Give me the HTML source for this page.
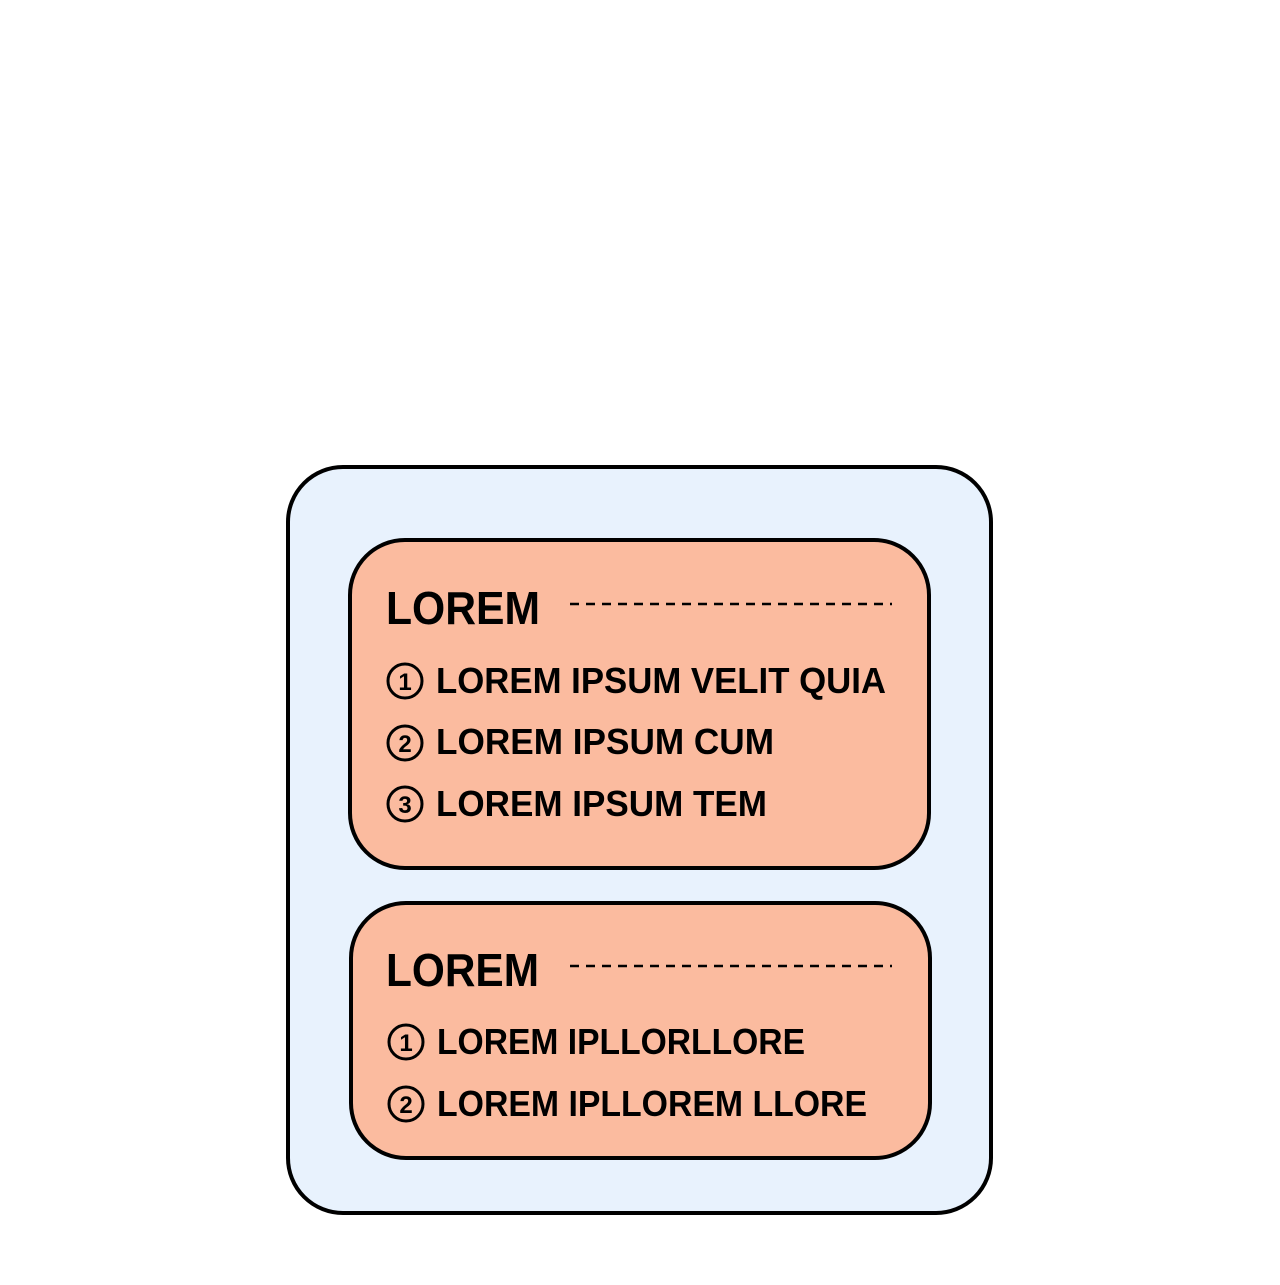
<!DOCTYPE html>
<html><head><meta charset="utf-8"><style>html,body{margin:0;padding:0;background:#fff}</style></head>
<body>
<svg width="1280" height="1280" xmlns="http://www.w3.org/2000/svg" font-family="Liberation Sans, sans-serif" font-weight="bold">
<rect x="288" y="467" width="703" height="746" rx="55" fill="#e8f2fd" stroke="#000" stroke-width="4"/>
<rect x="350" y="540" width="579" height="328" rx="55" fill="#fbbb9f" stroke="#000" stroke-width="4"/>
<rect x="351" y="903" width="579" height="255" rx="55" fill="#fbbb9f" stroke="#000" stroke-width="4"/>
<g fill="#000">
<text x="386" y="624" font-size="46" textLength="154" lengthAdjust="spacingAndGlyphs">LOREM</text>
<line x1="570" y1="604" x2="892" y2="604" stroke="#000" stroke-width="2.5" stroke-dasharray="9,7"/>
<text x="436" y="693" font-size="36" textLength="450" lengthAdjust="spacingAndGlyphs">LOREM IPSUM VELIT QUIA</text>
<text x="436" y="754" font-size="36" textLength="338" lengthAdjust="spacingAndGlyphs">LOREM IPSUM CUM</text>
<text x="436" y="816" font-size="36" textLength="331" lengthAdjust="spacingAndGlyphs">LOREM IPSUM TEM</text>
<text x="386" y="986" font-size="46" textLength="153" lengthAdjust="spacingAndGlyphs">LOREM</text>
<line x1="570" y1="966" x2="892" y2="966" stroke="#000" stroke-width="2.5" stroke-dasharray="9,7"/>
<text x="437" y="1054" font-size="36" textLength="368" lengthAdjust="spacingAndGlyphs">LOREM IPLLORLLORE</text>
<text x="437" y="1116" font-size="36" textLength="430" lengthAdjust="spacingAndGlyphs">LOREM IPLLOREM LLORE</text>
</g>
<g fill="none" stroke="#000" stroke-width="3">
<circle cx="405" cy="681" r="17"/><circle cx="405" cy="743" r="17"/><circle cx="405" cy="804" r="17"/>
<circle cx="406" cy="1042" r="17"/><circle cx="406" cy="1104" r="17"/>
</g>
<g fill="#000" font-size="24" text-anchor="middle">
<text x="405" y="690">1</text><text x="405" y="752">2</text><text x="405" y="813">3</text>
<text x="406" y="1051">1</text><text x="406" y="1113">2</text>
</g>
</svg>
</body></html>
